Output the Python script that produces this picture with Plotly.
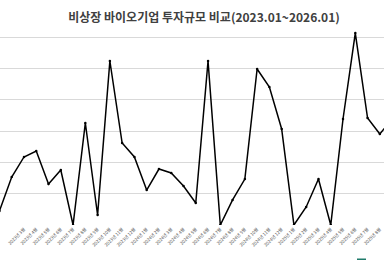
import plotly.graph_objects as go

months = [f"{2023 + i // 12}년 {i % 12 + 1}월" for i in range(37)]
values = [224, 767, 1087, 1183, 655, 879, 0, 1630, 160, 2621,
          1310, 1087, 559, 895, 831, 623, 352, 2621, 0, 400,
          735, 2493, 2205, 1534, 0, 288, 735, 0, 1694, 3068,
          1710, 1454, 1694]

title_text = "비상장 바이오기업 투자규모 비교(2023.01~2026.01)"

fig = go.Figure()
fig.add_trace(go.Scatter(
    x=list(range(len(values))), y=values, mode="lines+markers",
    line=dict(color="#000000", width=1.5),
    marker=dict(size=2.5, color="#000000"),
    showlegend=False, cliponaxis=True,
))

fig.update_layout(
    width=384, height=260,
    margin=dict(l=0, r=0, t=6, b=35),
    paper_bgcolor="white", plot_bgcolor="white",
    title=dict(text=title_text, x=204 / 384, xanchor="center",
               y=1 - 18 / 260, yanchor="middle",
               font=dict(family="Noto Sans CJK KR", size=12, color="#404040",
                         weight="bold")),
    xaxis=dict(
        tickmode="array", tickvals=list(range(len(months))), ticktext=months,
        range=[0.046, 31.34], tickangle=-45,
        tickfont=dict(family="Noto Sans CJK KR", size=4.5, color="#595959"),
        showgrid=False, zeroline=False, showline=False, ticks="",
    ),
    yaxis=dict(
        range=[0, 3500], dtick=500, showticklabels=False,
        gridcolor="#d9d9d9", gridwidth=1, zeroline=False, showline=False,
    ),
    font=dict(family="Noto Sans CJK KR"),
)
fig.add_shape(type="line", xref="paper", yref="paper",
              x0=357 / 384, x1=366 / 384, y0=-34.5 / 219, y1=-34.5 / 219,
              line=dict(color="#1f7a6a", width=2))
fig.write_html("out.html")
